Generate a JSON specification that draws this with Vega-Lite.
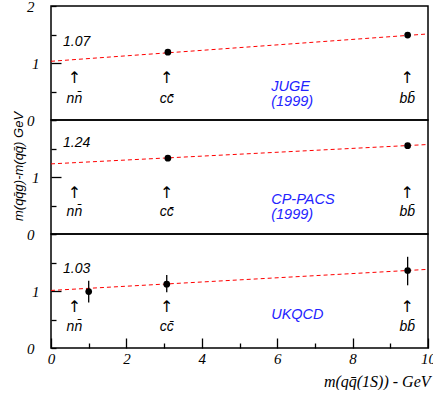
{
  "$schema": "https://vega.github.io/schema/vega-lite/v6.json",
  "padding": {"left": 11, "top": -2, "right": 0, "bottom": 0},
  "spacing": 0,
  "bounds": "flush",
  "config": {
    "view": {"stroke": "black", "strokeWidth": 1.5},
    "axis": {"domain": false, "grid": false, "zindex": 2, "labelOverlap": false, "tickCount": 20, "tickColor": "black", "labelColor": "black", "labelFont": "Liberation Serif", "labelFontStyle": "italic", "labelFontSize": 15}
  },
  "datasets": {
    "lines": [
      {"panel": "JUGE", "x": 0, "y": 1.03}, {"panel": "JUGE", "x": 10, "y": 1.51},
      {"panel": "CP-PACS", "x": 0, "y": 1.23}, {"panel": "CP-PACS", "x": 10, "y": 1.57},
      {"panel": "UKQCD", "x": 0, "y": 1.01}, {"panel": "UKQCD", "x": 10, "y": 1.38}
    ],
    "points": [
      {"panel": "JUGE", "x": 3.1, "y": 1.19}, {"panel": "JUGE", "x": 9.46, "y": 1.49},
      {"panel": "CP-PACS", "x": 3.1, "y": 1.33}, {"panel": "CP-PACS", "x": 9.46, "y": 1.55},
      {"panel": "UKQCD", "x": 1.0, "y": 0.99}, {"panel": "UKQCD", "x": 3.07, "y": 1.12}, {"panel": "UKQCD", "x": 9.46, "y": 1.36}
    ],
    "errors": [
      {"panel": "UKQCD", "x": 1.0, "y": 0.80, "hi": 1.18},
      {"panel": "UKQCD", "x": 3.07, "y": 0.98, "hi": 1.28},
      {"panel": "UKQCD", "x": 9.46, "y": 1.10, "hi": 1.60}
    ],
    "fits": [
      {"panel": "JUGE", "x": 0.32, "y": 1.37, "label": "1.07"},
      {"panel": "CP-PACS", "x": 0.32, "y": 1.59, "label": "1.24"},
      {"panel": "UKQCD", "x": 0.32, "y": 1.38, "label": "1.03"}
    ],
    "arrows": [
      {"panel": "JUGE", "x": 0.62, "y": 0.74, "label": "↑"}, {"panel": "JUGE", "x": 3.07, "y": 0.74, "label": "↑"}, {"panel": "JUGE", "x": 9.45, "y": 0.74, "label": "↑"},
      {"panel": "CP-PACS", "x": 0.62, "y": 0.72, "label": "↑"}, {"panel": "CP-PACS", "x": 3.07, "y": 0.72, "label": "↑"}, {"panel": "CP-PACS", "x": 9.45, "y": 0.72, "label": "↑"},
      {"panel": "UKQCD", "x": 0.62, "y": 0.72, "label": "↑"}, {"panel": "UKQCD", "x": 3.07, "y": 0.72, "label": "↑"}, {"panel": "UKQCD", "x": 9.45, "y": 0.72, "label": "↑"}
    ],
    "quarks": [
      {"panel": "JUGE", "x": 0.62, "y": 0.36, "label": "nn̄"}, {"panel": "JUGE", "x": 3.07, "y": 0.36, "label": "cc̄"}, {"panel": "JUGE", "x": 9.45, "y": 0.36, "label": "bb̄"},
      {"panel": "CP-PACS", "x": 0.62, "y": 0.38, "label": "nn̄"}, {"panel": "CP-PACS", "x": 3.07, "y": 0.38, "label": "cc̄"}, {"panel": "CP-PACS", "x": 9.45, "y": 0.38, "label": "bb̄"},
      {"panel": "UKQCD", "x": 0.62, "y": 0.37, "label": "nn̄"}, {"panel": "UKQCD", "x": 3.07, "y": 0.37, "label": "cc̄"}, {"panel": "UKQCD", "x": 9.45, "y": 0.37, "label": "bb̄"}
    ],
    "groups": [
      {"panel": "JUGE", "x": 5.84, "y": 0.58, "label": "JUGE"}, {"panel": "JUGE", "x": 5.84, "y": 0.32, "label": "(1999)"},
      {"panel": "CP-PACS", "x": 5.84, "y": 0.60, "label": "CP-PACS"}, {"panel": "CP-PACS", "x": 5.84, "y": 0.33, "label": "(1999)"},
      {"panel": "UKQCD", "x": 5.84, "y": 0.58, "label": "UKQCD"}
    ]
  },
  "vconcat": [
    {
      "width": 377, "height": 114,
      "encoding": {
        "x": {"field": "x", "type": "quantitative", "scale": {"domain": [0, 10], "nice": false, "zero": false}, "axis": null},
        "y": {"field": "y", "type": "quantitative", "scale": {"domain": [0, 2], "nice": false}, "title": null,
          "axis": {"values": [0, 0.5, 1, 1.5, 2], "labelExpr": "datum.value == 0 || datum.value == 1 || datum.value == 2 ? format(datum.value, 'd') : ''",
            "tickSize": {"condition": {"test": "datum.value == 1", "value": -10}, "value": -5}, "tickWidth": 1.3, "labelPadding": 22}}
      },
      "layer": [
        {"data": {"name": "lines"}, "transform": [{"filter": "datum.panel == 'JUGE'"}], "mark": {"type": "line", "color": "red", "strokeDash": [4, 3], "strokeWidth": 1}},
        {"data": {"name": "points"}, "transform": [{"filter": "datum.panel == 'JUGE'"}], "mark": {"type": "circle", "color": "black", "opacity": 1, "size": 45}},
        {"data": {"name": "fits"}, "transform": [{"filter": "datum.panel == 'JUGE'"}], "mark": {"type": "text", "align": "left", "baseline": "middle", "font": "Liberation Sans", "fontStyle": "italic", "fontSize": 14, "color": "black"}, "encoding": {"text": {"field": "label"}}},
        {"data": {"name": "arrows"}, "transform": [{"filter": "datum.panel == 'JUGE'"}], "mark": {"type": "text", "align": "center", "baseline": "middle", "font": "DejaVu Sans", "fontSize": 16, "color": "black"}, "encoding": {"text": {"field": "label"}}},
        {"data": {"name": "quarks"}, "transform": [{"filter": "datum.panel == 'JUGE'"}], "mark": {"type": "text", "align": "center", "baseline": "middle", "font": "Liberation Sans", "fontStyle": "italic", "fontSize": 14, "color": "black"}, "encoding": {"text": {"field": "label"}}},
        {"data": {"name": "groups"}, "transform": [{"filter": "datum.panel == 'JUGE'"}], "mark": {"type": "text", "align": "left", "baseline": "middle", "font": "Liberation Sans", "fontStyle": "italic", "fontSize": 14.5, "color": "#2323ff"}, "encoding": {"text": {"field": "label"}}}
      ]
    },
    {
      "width": 377, "height": 114,
      "encoding": {
        "x": {"field": "x", "type": "quantitative", "scale": {"domain": [0, 10], "nice": false, "zero": false}, "axis": null},
        "y": {"field": "y", "type": "quantitative", "scale": {"domain": [0, 2], "nice": false}, "title": "m(qq̄g)-m(qq̄) GeV",
          "axis": {"values": [0, 0.5, 1, 1.5, 2], "labelExpr": "datum.value == 0 || datum.value == 1 ? format(datum.value, 'd') : ''",
            "tickSize": {"condition": {"test": "datum.value == 1", "value": -10}, "value": -5}, "tickWidth": 1.3, "labelPadding": 22,
            "titleFont": "Liberation Sans", "titleFontStyle": "italic", "titleFontWeight": "normal", "titleFontSize": 13, "titleColor": "black",
            "titleX": -33, "titleY": 46, "titleAngle": -90, "titleAlign": "center", "titleBaseline": "middle"}}
      },
      "layer": [
        {"data": {"name": "lines"}, "transform": [{"filter": "datum.panel == 'CP-PACS'"}], "mark": {"type": "line", "color": "red", "strokeDash": [4, 3], "strokeWidth": 1}},
        {"data": {"name": "points"}, "transform": [{"filter": "datum.panel == 'CP-PACS'"}], "mark": {"type": "circle", "color": "black", "opacity": 1, "size": 45}},
        {"data": {"name": "fits"}, "transform": [{"filter": "datum.panel == 'CP-PACS'"}], "mark": {"type": "text", "align": "left", "baseline": "middle", "font": "Liberation Sans", "fontStyle": "italic", "fontSize": 14, "color": "black"}, "encoding": {"text": {"field": "label"}}},
        {"data": {"name": "arrows"}, "transform": [{"filter": "datum.panel == 'CP-PACS'"}], "mark": {"type": "text", "align": "center", "baseline": "middle", "font": "DejaVu Sans", "fontSize": 16, "color": "black"}, "encoding": {"text": {"field": "label"}}},
        {"data": {"name": "quarks"}, "transform": [{"filter": "datum.panel == 'CP-PACS'"}], "mark": {"type": "text", "align": "center", "baseline": "middle", "font": "Liberation Sans", "fontStyle": "italic", "fontSize": 14, "color": "black"}, "encoding": {"text": {"field": "label"}}},
        {"data": {"name": "groups"}, "transform": [{"filter": "datum.panel == 'CP-PACS'"}], "mark": {"type": "text", "align": "left", "baseline": "middle", "font": "Liberation Sans", "fontStyle": "italic", "fontSize": 14.5, "color": "#2323ff"}, "encoding": {"text": {"field": "label"}}}
      ]
    },
    {
      "width": 377, "height": 114,
      "encoding": {
        "x": {"field": "x", "type": "quantitative", "scale": {"domain": [0, 10], "nice": false, "zero": false}, "title": "m(qq̄(1S)) - GeV",
          "axis": {"values": [0, 1, 2, 3, 4, 5, 6, 7, 8, 9, 10], "labelExpr": "datum.value % 2 == 0 ? format(datum.value, 'd') : ''",
            "tickSize": {"condition": {"test": "datum.value % 2 == 0", "value": -10}, "value": -5}, "tickWidth": 1.3, "labelPadding": 13, "labelFlush": false,
            "titleFont": "Liberation Serif", "titleFontStyle": "italic", "titleFontWeight": "normal", "titleFontSize": 16, "titleColor": "black",
            "titleX": 379, "titleY": 33, "titleAlign": "right", "titleBaseline": "middle", "titleAnchor": null}},
        "y": {"field": "y", "type": "quantitative", "scale": {"domain": [0, 2], "nice": false}, "title": null,
          "axis": {"values": [0, 0.5, 1, 1.5, 2], "labelExpr": "datum.value == 0 || datum.value == 1 ? format(datum.value, 'd') : ''",
            "tickSize": {"condition": {"test": "datum.value == 1", "value": -10}, "value": -5}, "tickWidth": 1.3, "labelPadding": 22}}
      },
      "layer": [
        {"data": {"name": "lines"}, "transform": [{"filter": "datum.panel == 'UKQCD'"}], "mark": {"type": "line", "color": "red", "strokeDash": [4, 3], "strokeWidth": 1}},
        {"data": {"name": "errors"}, "transform": [{"filter": "datum.panel == 'UKQCD'"}], "mark": {"type": "rule", "color": "black", "strokeWidth": 1.3}, "encoding": {"y2": {"field": "hi"}}},
        {"data": {"name": "points"}, "transform": [{"filter": "datum.panel == 'UKQCD'"}], "mark": {"type": "circle", "color": "black", "opacity": 1, "size": 45}},
        {"data": {"name": "fits"}, "transform": [{"filter": "datum.panel == 'UKQCD'"}], "mark": {"type": "text", "align": "left", "baseline": "middle", "font": "Liberation Sans", "fontStyle": "italic", "fontSize": 14, "color": "black"}, "encoding": {"text": {"field": "label"}}},
        {"data": {"name": "arrows"}, "transform": [{"filter": "datum.panel == 'UKQCD'"}], "mark": {"type": "text", "align": "center", "baseline": "middle", "font": "DejaVu Sans", "fontSize": 16, "color": "black"}, "encoding": {"text": {"field": "label"}}},
        {"data": {"name": "quarks"}, "transform": [{"filter": "datum.panel == 'UKQCD'"}], "mark": {"type": "text", "align": "center", "baseline": "middle", "font": "Liberation Sans", "fontStyle": "italic", "fontSize": 14, "color": "black"}, "encoding": {"text": {"field": "label"}}},
        {"data": {"name": "groups"}, "transform": [{"filter": "datum.panel == 'UKQCD'"}], "mark": {"type": "text", "align": "left", "baseline": "middle", "font": "Liberation Sans", "fontStyle": "italic", "fontSize": 14.5, "color": "#2323ff"}, "encoding": {"text": {"field": "label"}}}
      ]
    }
  ]
}
